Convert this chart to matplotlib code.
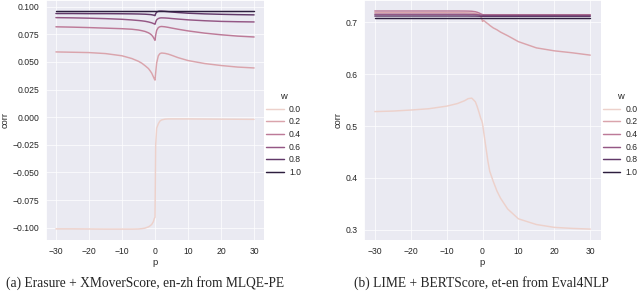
import numpy as np
import pandas as pd
import matplotlib
matplotlib.use('Agg')
import matplotlib.pyplot as plt
import seaborn as sns

# p 取值（两个子图共用）
P = [-30, -25, -20, -15, -10, -7, -5, -4, -3, -2, -1.5, -1, -0.5, -0.2, 0,
     0.2, 0.5, 1, 1.5, 2, 3, 4, 5, 7, 10, 15, 20, 25, 30]
W = [0.0, 0.2, 0.4, 0.6, 0.8, 1.0]

# (a) Erasure + XMoverScore
a_w00 = [-0.1010, -0.1010, -0.1011, -0.1012, -0.1012, -0.1012, -0.1011, -0.1008, -0.1003, -0.0992,
         -0.0983, -0.0970, -0.0945, -0.0915, -0.0905, -0.0250, -0.0100, -0.0060, -0.0035, -0.0025,
         -0.0018, -0.0016, -0.0016, -0.0016, -0.0016, -0.0017, -0.0018, -0.0019, -0.0020]
a_w02 = [0.0590, 0.0587, 0.0584, 0.0575, 0.0555, 0.0530, 0.0505, 0.0488, 0.0465, 0.0440,
         0.0420, 0.0398, 0.0365, 0.0345, 0.0335, 0.0400, 0.0490, 0.0555, 0.0575, 0.0580,
         0.0577, 0.0570, 0.0560, 0.0538, 0.0512, 0.0485, 0.0467, 0.0453, 0.0445]
a_w04 = [0.0817, 0.0814, 0.0810, 0.0805, 0.0800, 0.0795, 0.0788, 0.0782, 0.0775, 0.0763,
         0.0754, 0.0742, 0.0722, 0.0705, 0.0695, 0.0740, 0.0785, 0.0810, 0.0818, 0.0820,
         0.0817, 0.0812, 0.0806, 0.0795, 0.0780, 0.0760, 0.0745, 0.0733, 0.0725]
a_w06 = [0.0900, 0.0898, 0.0895, 0.0891, 0.0885, 0.0879, 0.0874, 0.0871, 0.0867, 0.0861,
         0.0857, 0.0853, 0.0847, 0.0843, 0.0840, 0.0860, 0.0880, 0.0892, 0.0897, 0.0898,
         0.0897, 0.0895, 0.0892, 0.0887, 0.0880, 0.0872, 0.0866, 0.0863, 0.0861]
a_w08 = [0.0937, 0.0937, 0.0936, 0.0936, 0.0935, 0.0934, 0.0933, 0.0932, 0.0931, 0.0929,
         0.0928, 0.0926, 0.0923, 0.0920, 0.0918, 0.0935, 0.0950, 0.0957, 0.0959, 0.0959,
         0.0957, 0.0954, 0.0951, 0.0946, 0.0940, 0.0934, 0.0930, 0.0927, 0.0925]
a_w10 = [0.0960, 0.0960, 0.0960, 0.0960, 0.0960, 0.0960, 0.0960, 0.0960, 0.0960, 0.0960,
         0.0960, 0.0960, 0.0960, 0.0960, 0.0960, 0.0960, 0.0960, 0.0960, 0.0960, 0.0960,
         0.0960, 0.0960, 0.0960, 0.0960, 0.0960, 0.0960, 0.0960, 0.0960, 0.0960]

# (b) LIME + BERTScore
b_w00 = [0.5280, 0.5290, 0.5310, 0.5335, 0.5385, 0.5435, 0.5490, 0.5530, 0.5540, 0.5470,
         0.5380, 0.5270, 0.5150, 0.5100, 0.5050, 0.4950, 0.4800, 0.4560, 0.4320, 0.4130,
         0.3930, 0.3750, 0.3610, 0.3400, 0.3210, 0.3100, 0.3045, 0.3025, 0.3012]
b_w02 = [0.7188, 0.7188, 0.7188, 0.7188, 0.7188, 0.7188, 0.7187, 0.7186, 0.7183, 0.7175,
         0.7168, 0.7155, 0.7115, 0.7070, 0.7020, 0.7040, 0.7030, 0.7000, 0.6975, 0.6945,
         0.6895, 0.6860, 0.6815, 0.6745, 0.6630, 0.6510, 0.6453, 0.6415, 0.6370]
b_w04 = [0.7222, 0.7222, 0.7222, 0.7222, 0.7222, 0.7222, 0.7221, 0.7220, 0.7217, 0.7208,
         0.7198, 0.7185, 0.7168, 0.7158, 0.7152, 0.7150, 0.7150, 0.7150, 0.7150, 0.7150,
         0.7150, 0.7150, 0.7150, 0.7150, 0.7150, 0.7150, 0.7150, 0.7150, 0.7150]
b_w06 = [0.7158, 0.7158, 0.7158, 0.7158, 0.7158, 0.7158, 0.7158, 0.7157, 0.7156, 0.7153,
         0.7150, 0.7147, 0.7144, 0.7142, 0.7141, 0.7140, 0.7140, 0.7140, 0.7140, 0.7140,
         0.7140, 0.7140, 0.7140, 0.7140, 0.7140, 0.7140, 0.7140, 0.7140, 0.7140]
b_w08 = [0.7125, 0.7125, 0.7125, 0.7125, 0.7125, 0.7125, 0.7125, 0.7125, 0.7124, 0.7124,
         0.7123, 0.7122, 0.7121, 0.7120, 0.7120, 0.7120, 0.7120, 0.7120, 0.7120, 0.7120,
         0.7120, 0.7120, 0.7120, 0.7120, 0.7120, 0.7120, 0.7120, 0.7120, 0.7120]
b_w10 = [0.7085, 0.7085, 0.7085, 0.7085, 0.7085, 0.7085, 0.7085, 0.7085, 0.7085, 0.7085,
         0.7085, 0.7085, 0.7085, 0.7085, 0.7085, 0.7085, 0.7085, 0.7085, 0.7085, 0.7085,
         0.7085, 0.7085, 0.7085, 0.7085, 0.7085, 0.7085, 0.7085, 0.7085, 0.7085]

captions = ['(a) Erasure + XMoverScore, en-zh from MLQE-PE',
            '(b) LIME + BERTScore, et-en from Eval4NLP']


def to_frame(curves):
    rows = []
    for w, vals in zip(W, curves):
        for p, c in zip(P, vals):
            rows.append({'p': p, 'corr': c, 'w': w})
    return pd.DataFrame(rows)


df_a = to_frame([a_w00, a_w02, a_w04, a_w06, a_w08, a_w10])
df_b = to_frame([b_w00, b_w02, b_w04, b_w06, b_w08, b_w10])

sns.set_theme(style='darkgrid')
plt.rcParams['font.family'] = ['Liberation Sans', 'DejaVu Sans']
plt.rcParams['xtick.labelsize'] = 12.5
plt.rcParams['ytick.labelsize'] = 12.5
plt.rcParams['axes.labelsize'] = 13.5
plt.rcParams['legend.fontsize'] = 12.5
plt.rcParams['legend.title_fontsize'] = 13.5

fig = plt.figure(figsize=(12.8, 6.02), dpi=50)
ax1 = fig.add_axes([0.0719, 0.2027, 0.3406, 0.797])
ax2 = fig.add_axes([0.5688, 0.2027, 0.3703, 0.797])

for ax, df, cap, cx in [(ax1, df_a, captions[0], 0.226), (ax2, df_b, captions[1], 0.752)]:
    sns.lineplot(data=df, x='p', y='corr', hue='w', legend='full', ax=ax, linewidth=2.1)
    ax.set_xticks([-30, -20, -10, 0, 10, 20, 30])
    sns.move_legend(ax, 'center left', bbox_to_anchor=(0.975, 0.44), frameon=False,
                    handlelength=2.0, handletextpad=0.6, labelspacing=0.42)
    fig.text(cx, 0.06, cap, ha='center', va='center',
             family='Liberation Serif', fontsize=19.5)

ax1.set_yticks([-0.100, -0.075, -0.050, -0.025, 0.000, 0.025, 0.050, 0.075, 0.100])
ax2.set_yticks([0.3, 0.4, 0.5, 0.6, 0.7])

fig.savefig('out.png', dpi=50)
